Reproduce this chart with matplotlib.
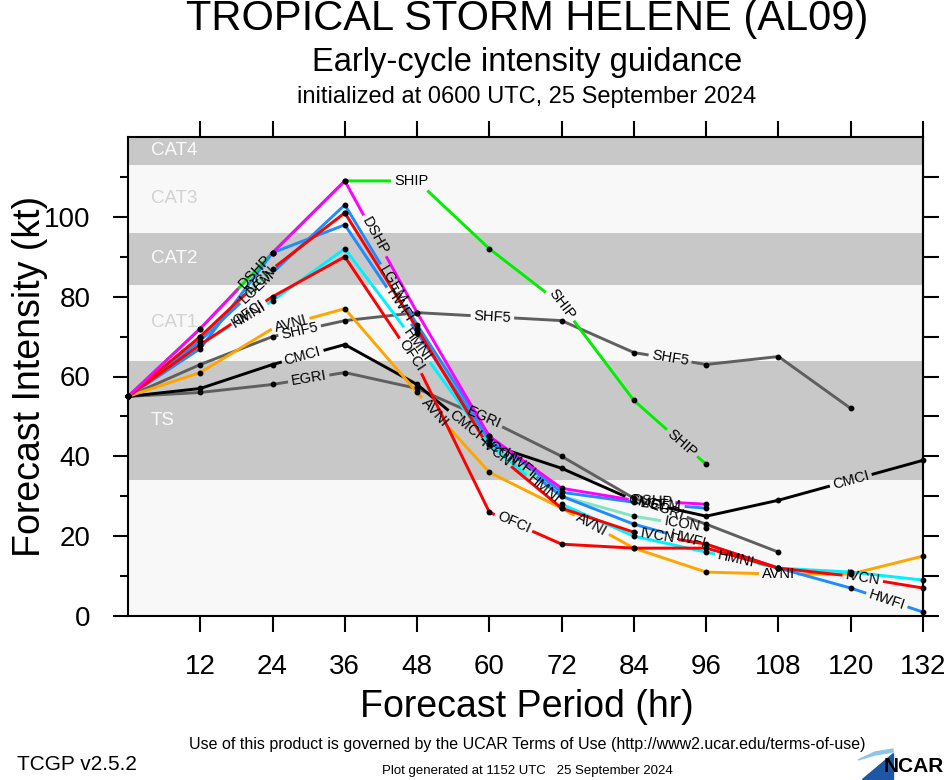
import numpy as np
import matplotlib
matplotlib.use("Agg")
import matplotlib.pyplot as plt
from matplotlib.patches import Polygon

plt.rcParams['font.family'] = ['Liberation Sans', 'DejaVu Sans']

HOURS = [0, 12, 24, 36, 48, 60, 72, 84, 96, 108, 120, 132]

# intensity (kt) at each 12-h step
SHIP = [55, 72, 91, 109, 109, 92, 78, 54, 38]
DSHP = [55, 72, 91, 109, 76, 45, 32, 29, 28]
LGEM = [55, 69, 86, 103, 73, 45, 31, 28.5, 27]
HWFI = [55, 67, 91, 98, 71, 44, 30, 23, 18, 12, 7, 1]
HMNI = [55, 68, 79, 92, 68, 43, 28, 20, 16, 12, 11, 9]
OFCI = [55, 68, 80, 90, 63, 26, 18, 17, 17, 12]
IVCN = [55, 70, 87, 101, 72, 42, 27, 21, 18, 12, 10, 7]
ICON = [55, 70, 87, 101, 72, 43, 30, 25, 22]
AVNI = [55, 61, 72, 77, 56, 36, 27, 17, 11, 10.5, 10.5, 15]
CMCI = [55, 57, 63, 68, 58, 43, 37, 29, 25, 29, 34, 39]
EGRI = [55, 56, 58, 61, 57, 49, 40, 29.5, 23, 16]
SHF5 = [55, 63, 70, 74, 76, 75, 74, 66, 63, 65, 52]

# drawing order, bottom to top
MODELS = {
    "SHF5": SHF5, "EGRI": EGRI, "CMCI": CMCI, "AVNI": AVNI, "SHIP": SHIP,
    "ICON": ICON, "HMNI": HMNI, "HWFI": HWFI, "LGEM": LGEM, "OFCI": OFCI,
    "IVCN": IVCN, "DSHP": DSHP,
}
COLORS = {
    "SHF5": "#5f5f5f", "EGRI": "#5f5f5f", "CMCI": "black", "AVNI": "#ffa500",
    "SHIP": "#00ee00", "ICON": "#7fe6bd", "HMNI": "#00f0ff", "HWFI": "#1e8cff",
    "LGEM": "#1e8cff", "OFCI": "#ff0000", "IVCN": "#ff0000", "DSHP": "#ff00ff",
}
# forecast hour where each in-line label sits
LABEL_HOURS = {
    "SHIP": [47, 72, 92], "DSHP": [21, 41, 87], "LGEM": [21.5, 44, 88.5],
    "HWFI": [45, 65, 93, 126], "HMNI": [20, 48, 69, 101], "OFCI": [20, 47, 64],
    "IVCN": [22, 61, 88, 122], "ICON": [62, 92], "AVNI": [27, 51, 77, 108],
    "CMCI": [29, 56, 86, 120], "EGRI": [30, 59, 89.5], "SHF5": [28.5, 60.5, 90],
}

# Saffir-Simpson bands (kt)
BAND_NAMES = ["TS", "CAT1", "CAT2", "CAT3", "CAT4"]
BAND_LO = [34, 64, 83, 96, 113]
BAND_HI = [64, 83, 96, 113, 120]
DARK, LIGHT = "#c8c8c8", "#f8f8f8"

W, H = 946, 780
fig = plt.figure(figsize=(W / 100, H / 100), dpi=100)
ax = fig.add_axes([128 / W, 1 - 616 / H, (923 - 128) / W, (616 - 137) / H])
ax.set_xlim(0, 132)
ax.set_ylim(0, 120)
ax.set_facecolor(LIGHT)

for i, (name, lo, hi) in enumerate(zip(BAND_NAMES, BAND_LO, BAND_HI)):
    dark = i % 2 == 0
    ax.axhspan(lo, hi, color=DARK if dark else LIGHT, zorder=0, lw=0)
    ax.text(3.8, (lo + hi) / 2, name, fontsize=13.5, va="center", ha="left",
            color="#fafafa" if dark else "#d2d2d2", zorder=1)

ax.set_xticks(HOURS[1:])
ax.set_yticks(np.arange(0, 101, 20))
ax.set_yticks(np.arange(10, 111, 20), minor=True)
ax.tick_params(axis="x", direction="out", length=11.5, width=1.5, labelsize=20,
               pad=16, top=True)
ax.tick_params(axis="y", which="major", direction="out", length=10.8, width=1.5,
               labelsize=20, pad=16)
ax.tick_params(axis="y", which="minor", direction="out", length=5.8, width=1.5)
for sp in ax.spines.values():
    sp.set_linewidth(1.5)
right = ax.secondary_yaxis("right")
right.set_yticks(np.arange(0, 111, 10))
right.tick_params(direction="out", length=11.5, width=1.5, labelright=False)
right.spines["right"].set_linewidth(1.5)

renderer = fig.canvas.get_renderer()
inv = ax.transData.inverted()


def draw_model(name, vals, color, lab_hours):
    x = np.array(HOURS[:len(vals)], float)
    y = np.array(vals, float)
    pts = ax.transData.transform(np.column_stack([x, y]))
    seg = np.hypot(*np.diff(pts, axis=0).T)
    s = np.concatenate([[0], np.cumsum(seg)])
    gaps = []
    for h in lab_hours:
        sh = np.interp(h, x, s)
        p = np.array([np.interp(sh, s, pts[:, 0]), np.interp(sh, s, pts[:, 1])])
        i = min(np.searchsorted(s, sh, side="right") - 1, len(seg) - 1)
        dx, dy = pts[i + 1] - pts[i]
        ang = np.degrees(np.arctan2(dy, dx))
        t = ax.text(*inv.transform(p), name, rotation=ang, rotation_mode="anchor",
                    ha="center", va="center", fontsize=10.5, zorder=10, clip_on=False)
        w = renderer.get_text_width_height_descent(name, t.get_fontproperties(), ismath=False)[0]
        gaps.append((sh - w / 2 - 3, sh + w / 2 + 3))
    gaps.sort()
    pieces, start = [], 0.0
    for a, b in gaps:
        if a > start:
            pieces.append((start, a))
        start = max(start, b)
    if start < s[-1]:
        pieces.append((start, s[-1]))
    for a, b in pieces:
        ss = np.concatenate([[a], s[(s > a) & (s < b)], [b]])
        d = inv.transform(np.column_stack([np.interp(ss, s, pts[:, 0]),
                                           np.interp(ss, s, pts[:, 1])]))
        ax.plot(d[:, 0], d[:, 1], color=color, lw=2.1, solid_capstyle="butt",
                zorder=3, clip_on=False)
    keep = [k for k in range(len(x)) if not any(a <= s[k] <= b for a, b in gaps)]
    ax.plot(x[keep], y[keep], "o", color="black", ms=3.2, zorder=4, clip_on=False)


for name, vals in MODELS.items():
    draw_model(name, vals, COLORS[name], LABEL_HOURS[name])

cx = 527 / W
fig.text(cx, 1 - 19 / H, "TROPICAL STORM HELENE (AL09)", ha="center", va="center", fontsize=30)
fig.text(cx, 1 - 62 / H, "Early-cycle intensity guidance", ha="center", va="center", fontsize=23.5)
fig.text(cx, 1 - 97 / H, "initialized at 0600 UTC, 25 September 2024", ha="center",
         va="center", fontsize=17)
fig.text(30 / W, 1 - 376 / H, "Forecast Intensity (kt)", rotation=90, ha="center",
         va="center", fontsize=27)
fig.text(cx, 1 - 707 / H, "Forecast Period (hr)", ha="center", va="center", fontsize=27)
fig.text(cx, 1 - 744 / H,
         "Use of this product is governed by the UCAR Terms of Use (http://www2.ucar.edu/terms-of-use)",
         ha="center", va="center", fontsize=11.5)
fig.text(cx, 1 - 771 / H, "Plot generated at 1152 UTC   25 September 2024",
         ha="center", va="center", fontsize=9.5)
fig.text(17 / W, 1 - 765 / H, "TCGP v2.5.2", ha="left", va="center", fontsize=15)

# NCAR logo
fig.patches.append(Polygon([(862 / W, 1 / H), (893 / W, 1 / H), (893 / W, 27 / H)],
                           closed=True, transform=fig.transFigure, color="#1d57a5"))
fig.patches.append(Polygon([(858 / W, 20 / H), (875 / W, 28 / H), (893 / W, 31 / H),
                            (893 / W, 28 / H), (875 / W, 25 / H)],
                           closed=True, transform=fig.transFigure, color="#8cc4ec"))
fig.text(944 / W, 1 - 766 / H, "NCAR", ha="right", va="center", fontsize=15,
         fontweight="bold")

fig.savefig("out.png", dpi=100)
